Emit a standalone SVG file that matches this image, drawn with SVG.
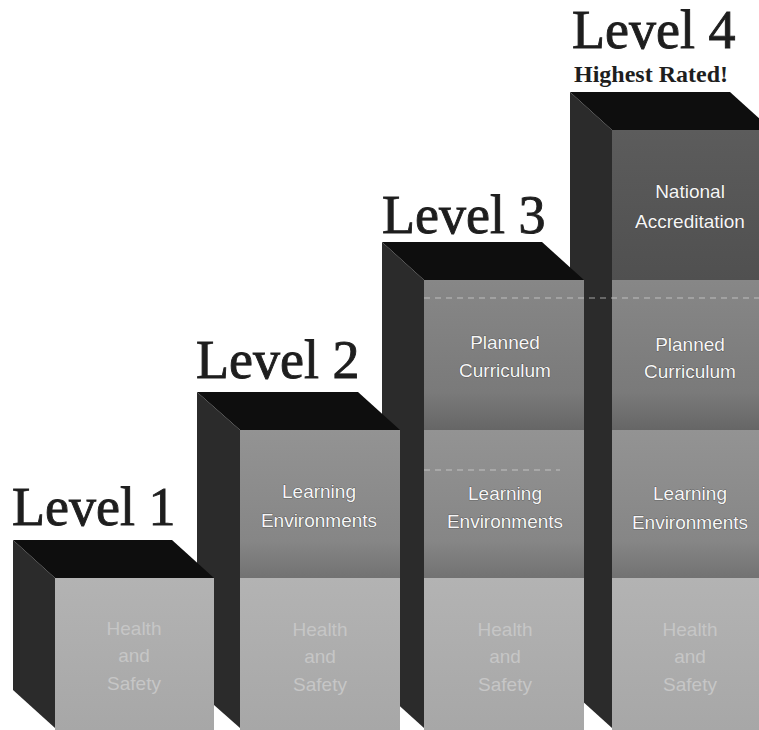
<svg xmlns="http://www.w3.org/2000/svg" width="759" height="730" viewBox="0 0 759 730">
  <defs>
    <linearGradient id="gHealth" x1="0" y1="0" x2="0" y2="1">
      <stop offset="0" stop-color="#b3b3b3"/>
      <stop offset="1" stop-color="#a7a7a7"/>
    </linearGradient>
    <linearGradient id="gLearn" x1="0" y1="0" x2="0" y2="1">
      <stop offset="0" stop-color="#939393"/>
      <stop offset="0.75" stop-color="#868686"/>
      <stop offset="1" stop-color="#727272"/>
    </linearGradient>
    <linearGradient id="gPlan" x1="0" y1="0" x2="0" y2="1">
      <stop offset="0" stop-color="#878787"/>
      <stop offset="0.75" stop-color="#7a7a7a"/>
      <stop offset="1" stop-color="#666666"/>
    </linearGradient>
    <linearGradient id="gNat" x1="0" y1="0" x2="0" y2="1">
      <stop offset="0" stop-color="#5c5c5c"/>
      <stop offset="1" stop-color="#505050"/>
    </linearGradient>
    <style>
      .top { fill: #0e0e0e; }
      .side { fill: #2b2b2b; }
      .health { fill: url(#gHealth); }
      .learn { fill: url(#gLearn); }
      .plan { fill: url(#gPlan); }
      .nat { fill: url(#gNat); }
      .lbl { font-family: "Liberation Sans", Arial, sans-serif; font-size: 19px; text-anchor: middle; fill: #f6f6f6; stroke: #3a3a3a; stroke-width: 0.7; paint-order: stroke; }
      .hs { font-family: "Liberation Sans", Arial, sans-serif; font-size: 19px; text-anchor: middle; fill: #c6c6c6; }
      .level { font-family: "Liberation Serif", "Times New Roman", serif; font-size: 54px; fill: #1e1e1e; stroke: #1e1e1e; stroke-width: 0.9; }
      .sub { font-family: "Liberation Serif", "Times New Roman", serif; font-size: 24px; font-weight: bold; fill: #1e1e1e; }
      .scan { stroke: #d8d8d8; stroke-width: 1; stroke-dasharray: 6 5; opacity: 0.7; }
    </style>
  </defs>
  <rect x="0" y="0" width="759" height="730" fill="#ffffff"/>

  <g id="bar4">
    <polygon class="top" points="570,92 730,92 772,130 612,130"/>
    <polygon class="side" points="570,92 612,130 612,728 570,690"/>
    <rect class="nat" x="612" y="130" width="160" height="150"/>
    <rect class="plan" x="612" y="280" width="160" height="150"/>
    <rect class="learn" x="612" y="430" width="160" height="148"/>
    <rect class="health" x="612" y="578" width="160" height="152"/>
    <text class="lbl" x="690" y="198">National</text>
    <text class="lbl" x="690" y="228">Accreditation</text>
    <text class="lbl" x="690" y="351">Planned</text>
    <text class="lbl" x="690" y="378">Curriculum</text>
    <text class="lbl" x="690" y="500">Learning</text>
    <text class="lbl" x="690" y="529">Environments</text>
    <text class="hs" x="690" y="636">Health</text>
    <text class="hs" x="690" y="663">and</text>
    <text class="hs" x="690" y="691">Safety</text>
  </g>

  <g id="bar3">
    <polygon class="top" points="382,242 542,242 584,280 424,280"/>
    <polygon class="side" points="382,242 424,280 424,728 382,690"/>
    <rect class="plan" x="424" y="280" width="160" height="150"/>
    <rect class="learn" x="424" y="430" width="160" height="148"/>
    <rect class="health" x="424" y="578" width="160" height="152"/>
    <text class="lbl" x="505" y="349">Planned</text>
    <text class="lbl" x="505" y="377">Curriculum</text>
    <text class="lbl" x="505" y="500">Learning</text>
    <text class="lbl" x="505" y="528">Environments</text>
    <text class="hs" x="505" y="636">Health</text>
    <text class="hs" x="505" y="663">and</text>
    <text class="hs" x="505" y="691">Safety</text>
  </g>

  <g id="bar2">
    <polygon class="top" points="197,392 358,392 400,430 240,430"/>
    <polygon class="side" points="197,392 240,430 240,728 197,690"/>
    <rect class="learn" x="240" y="430" width="160" height="148"/>
    <rect class="health" x="240" y="578" width="160" height="152"/>
    <text class="lbl" x="319" y="498">Learning</text>
    <text class="lbl" x="319" y="527">Environments</text>
    <text class="hs" x="320" y="636">Health</text>
    <text class="hs" x="320" y="663">and</text>
    <text class="hs" x="320" y="691">Safety</text>
  </g>

  <g id="bar1">
    <polygon class="top" points="13,540 172,540 214,578 55,578"/>
    <polygon class="side" points="13,540 55,578 55,728 13,690"/>
    <rect class="health" x="55" y="578" width="159" height="152"/>
    <text class="hs" x="134" y="635">Health</text>
    <text class="hs" x="134" y="662">and</text>
    <text class="hs" x="134" y="690">Safety</text>
  </g>

  <g id="scanlines">
    <line class="scan" x1="424" y1="298" x2="759" y2="298"/>
    <line class="scan" x1="424" y1="470" x2="560" y2="470"/>
  </g>

  <g id="labels">
    <text class="level" x="12" y="525">Level 1</text>
    <text class="level" x="196" y="378">Level 2</text>
    <text class="level" x="382" y="233">Level 3</text>
    <text class="level" x="572" y="48">Level 4</text>
    <text class="sub" x="574" y="82">Highest Rated!</text>
  </g>
</svg>
